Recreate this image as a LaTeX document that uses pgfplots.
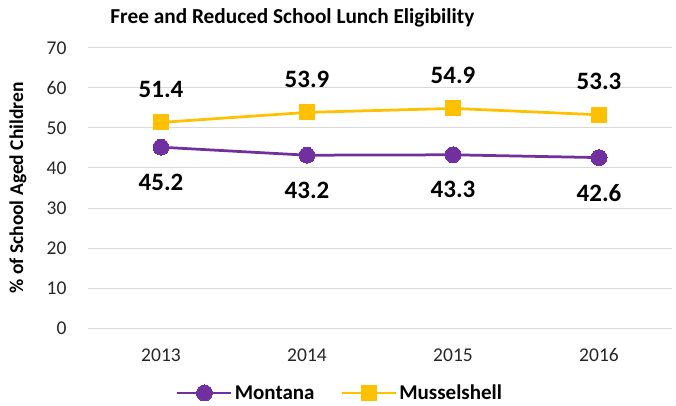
\documentclass[border=0pt]{standalone}
\usepackage{fontspec}
\setmainfont{Carlito}
\usepackage{pgfplots}
\pgfplotsset{compat=1.18}
\definecolor{MTpurple}{HTML}{7030A0}
\definecolor{MSyellow}{HTML}{FFC000}
\definecolor{gridgray}{HTML}{D9D9D9}
\begin{document}
\begin{tikzpicture}
\begin{axis}[
  scale only axis,
  width=584pt, height=280pt,
  xmin=-0.5, xmax=3.5,
  ymin=0, ymax=70,
  xtick={0,1,2,3},
  xticklabels={2013,2014,2015,2016},
  ytick={0,10,...,70},
  axis line style={draw=none},
  ymajorgrids,
  grid style={gridgray, line width=1pt},
  major tick length=0pt,
  /pgf/number format/assume math mode=true,
  tick label style={font=\fontsize{19.5}{22}\selectfont, text=black!85},
  yticklabel style={anchor=east, xshift=-18pt},
  xticklabel style={anchor=center, yshift=-27pt},
  ylabel={\bfseries\% of School Aged Children},
  ylabel style={font=\fontsize{19.5}{22}\selectfont, at={(axis description cs:-0.12,0.5)}, anchor=center},
  title={\bfseries Free and Reduced School Lunch Eligibility},
  title style={font=\fontsize{21.3}{24}\selectfont, at={(axis description cs:0.35,1)}, anchor=base, yshift=18pt},
  legend columns=2,
  legend style={draw=none, fill=none, font=\fontsize{21}{24}\selectfont\bfseries,
    at={(axis description cs:0.4315,-0.232)}, anchor=center,
    /tikz/every even column/.append style={column sep=24pt}},
  legend image code/.code={
    \draw[#1, mark=none, line width=2.75pt] (0pt,0pt) -- (54pt,0pt);
    \draw[#1, line width=2.75pt] plot coordinates {(27pt,0pt)};
  },
  nodes near coords,
  point meta=explicit,
  every node near coord/.append style={font=\fontsize{25}{28}\selectfont\bfseries, text=black, anchor=center},
  clip=false,
]
\addplot[color=MTpurple, line width=2.75pt, mark=*, mark size=8pt, mark options={fill=MTpurple, line width=0pt},
  every node near coord/.append style={yshift=-35pt}]
  coordinates {
    (0,45.2) [45.2]
    (1,43.2) [43.2]
    (2,43.3) [43.3]
    (3,42.6) [42.6]
  };
\addlegendentry{Montana}
\addplot[color=MSyellow, line width=2.75pt, mark=square*, mark size=7.5pt, mark options={fill=MSyellow, line width=0pt},
  every node near coord/.append style={yshift=33pt}]
  coordinates {
    (0,51.4) [51.4]
    (1,53.9) [53.9]
    (2,54.9) [54.9]
    (3,53.3) [53.3]
  };
\addlegendentry{Musselshell}
\end{axis}
\pgfresetboundingbox
\path[use as bounding box] (-88pt,-78pt) rectangle (588pt,328pt);
\end{tikzpicture}
\end{document}
